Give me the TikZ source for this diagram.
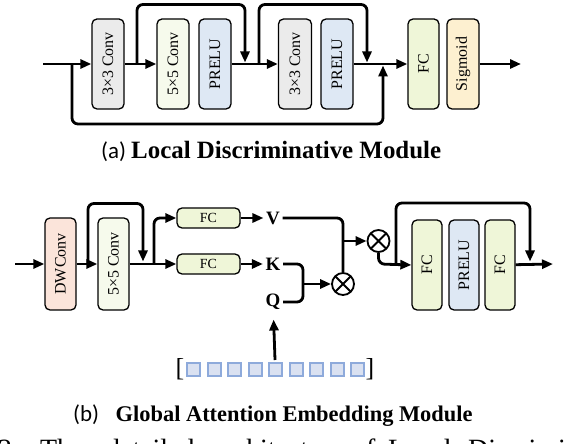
\documentclass[tikz,border=0pt]{standalone}
\usepackage{fontspec}
\usepackage{graphicx}
\setmainfont{Liberation Serif}
\newfontfamily\capsans{Carlito}
\usetikzlibrary{arrows.meta}
\definecolor{cgray}{HTML}{EBEBEB}
\definecolor{cwhite}{HTML}{F6FAEC}
\definecolor{cblue}{HTML}{DEE8F4}
\definecolor{cgreen}{HTML}{EFF6D8}
\definecolor{corange}{HTML}{FDF0D0}
\definecolor{csalmon}{HTML}{FBE4DA}
\definecolor{sqfill}{HTML}{DAE1F1}
\definecolor{sqdraw}{HTML}{8EAADB}
\begin{document}
\begin{tikzpicture}[x=1bp,y=-1bp,
  blk/.style={draw, line width=1.3bp, rounded corners=5bp, minimum width=32bp, minimum height=90bp, inner sep=0pt, font=\fontsize{16}{16}\selectfont},
  hblk/.style={draw, line width=1.3bp, rounded corners=5bp, fill=cgreen, minimum width=63bp, minimum height=20bp, inner sep=0pt, font=\fontsize{14}{14}\selectfont},
  conn/.style={line width=2.8bp, rounded corners=6bp},
  arr/.style={conn, -{Triangle[length=11bp,width=9bp]}},
  lbl/.style={inner sep=2.5bp, font=\bfseries\fontsize{19}{19}\selectfont},
  otimes/.style={circle, draw, line width=1.8bp, minimum size=22bp, inner sep=0pt,
    path picture={\draw[line width=1.8bp] (path picture bounding box.north west) -- (path picture bounding box.south east)
      (path picture bounding box.north east) -- (path picture bounding box.south west);}},
  sq/.style={draw=sqdraw, fill=sqfill, line width=2bp, minimum size=13bp, inner sep=0pt},
  captxt/.style={anchor=base west, inner sep=0pt},
]
\useasboundingbox (0,0) rectangle (566,444);

% ---------- (a) Local Discriminative Module ----------
\node[blk, fill=cgray] (c1) at (108,64) {\rotatebox{90}{3×3 Conv}};
\node[blk, fill=cwhite] (c2) at (173,64) {\rotatebox{90}{5×5 Conv}};
\node[blk, fill=cblue] (p1) at (215,64) {\rotatebox{90}{PRELU}};
\node[blk, fill=cgray, minimum width=33bp] (c3) at (295,64) {\rotatebox{90}{3×3 Conv}};
\node[blk, fill=cblue] (p2) at (337,64) {\rotatebox{90}{PRELU}};
\node[blk, fill=cgreen, minimum width=31bp] (fa) at (423.5,64) {\rotatebox{90}{FC}};
\node[blk, fill=corange] (sg) at (463,64) {\rotatebox{90}{Sigmoid}};

\coordinate (ain) at (43,64);
\coordinate (aout) at (521,64);
\coordinate (s1a) at (137,64);
\coordinate (s1b) at (245,62.5);
\coordinate (s2a) at (259,64);
\coordinate (s2b) at (367,62.5);
\coordinate (s3a) at (72,64);
\coordinate (s3b) at (383,65.5);

\draw[arr] (ain) -- (c1);
\draw[arr] (c1) -- (c2);
\draw[arr] (p1) -- (c3);
\draw[arr] (p2) -- (fa);
\draw[arr] (sg) -- (aout);
\draw[arr] (s1a) -- (137,4.5) -- (245,4.5) -- (s1b);
\draw[arr] (s2a) -- (259,4.5) -- (367,4.5) -- (s2b);
\draw[arr] (s3a) -- (72,124) -- (383,124) -- (s3b);

\node[captxt, font=\capsans\fontsize{23}{23}\selectfont] (capa1) at (101,159) {(a)};
\node[captxt, font=\bfseries\fontsize{25}{25}\selectfont] (capa2) at (131,159) {Local Discriminative Module};

% ---------- (b) Global Attention Embedding Module ----------
\node[blk, fill=csalmon, minimum width=31bp, minimum height=92bp] (dw) at (60.5,264) {\rotatebox{90}{DWConv}};
\node[blk, fill=cwhite, minimum width=31bp, minimum height=92bp] (c5) at (113.5,264) {\rotatebox{90}{5×5 Conv}};
\node[hblk] (fv) at (208.5,218) {FC};
\node[hblk] (fk) at (208.5,264) {FC};
\node[lbl] (V) at (273,218) {V};
\node[lbl] (K) at (273,264) {K};
\node[lbl] (Q) at (273,302) {Q};
\node[otimes] (m1) at (343,284) {};
\node[otimes] (m2) at (378.5,241) {};
\node[blk, fill=cgreen, minimum width=30bp] (f1) at (427,265) {\rotatebox{90}{FC}};
\node[blk, fill=cblue, minimum width=30bp] (pr) at (464,265) {\rotatebox{90}{PRELU}};
\node[blk, fill=cgreen, minimum width=30bp] (f2) at (500,265) {\rotatebox{90}{FC}};

\coordinate (bin) at (15,264);
\coordinate (bout) at (553,264);
\coordinate (t1a) at (88,264);
\coordinate (t1b) at (143,261.5);
\coordinate (br) at (154,264);
\coordinate (kq) at (303,284);
\coordinate (vm) at (343,241);
\coordinate (t2a) at (396,264);
\coordinate (t2b) at (530,261.5);
\coordinate (qin) at (275,360);

\draw[arr] (bin) -- (dw);
\draw[arr] (dw) -- (c5);
\draw[arr] (t1a) -- (88,203.5) -- (143,203.5) -- (t1b);
\draw[arr] (c5) -- (fk);
\draw[arr] (br) -- (154,218) -- (fv.west);
\draw[arr] (fv) -- (V);
\draw[arr] (fk) -- (K);
\draw[conn] (K.east) -- (303,264) -- (303,302) -- (Q.east);
\draw[arr] (kq) -- (m1);
\draw[conn] (V.east) -- (343,218) -- (m1.north);
\draw[arr] (vm) -- (m2);
\draw[arr] (m2.south) -- (378.5,264) -- (f1.west);
\draw[arr] (t2a) -- (396,203) -- (530,203) -- (t2b);
\draw[arr] (f2) -- (bout);
\draw[arr, shorten >=7bp] (qin) -- (Q);

\node[font=\fontsize{26}{26}\selectfont, inner sep=0pt] (lb) at (180,369) {[};
\foreach \i in {0,...,8} {\node[sq] (sq\i) at (193.5+20.5*\i,369.5) {};}
\node[font=\fontsize{26}{26}\selectfont, inner sep=0pt] (rb) at (370,369) {]};

\node[captxt, font=\capsans\fontsize{23}{23}\selectfont] (capb1) at (73,421) {(b)};
\node[captxt, font=\bfseries\fontsize{22.5}{22.5}\selectfont] (capb2) at (115.5,421) {Global Attention Embedding Module};

% ---------- cut-off figure caption (only its top shows) ----------
\begin{scope}
\clip (0,0) rectangle (566,444);
\begin{scope}[every node/.style={captxt, font=\fontsize{28}{28}\selectfont}]
\node (w0) at (-2,458.5) {2:};
\node (w1) at (40,458.5) {The};
\node (w2) at (106,458.5) {detailed};
\node (w3) at (212,458.5) {architecture};
\node (w4) at (352,458.5) {of};
\node (w5) at (388,458.5) {Local};
\node (w6) at (468,458.5) {Discrimi};
\end{scope}
\end{scope}
\end{tikzpicture}
\end{document}
